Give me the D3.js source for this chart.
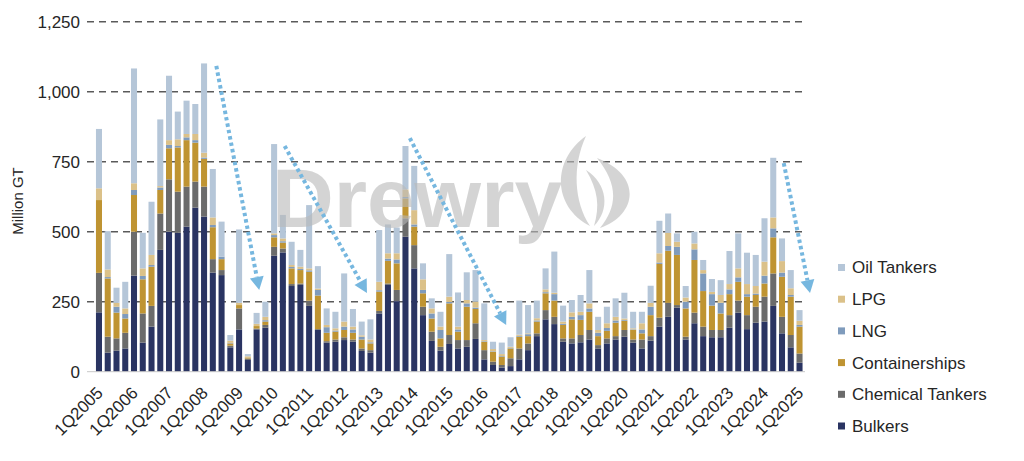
<!DOCTYPE html>
<html>
<head>
<meta charset="utf-8">
<script src="https://d3js.org/d3.v7.min.js"></script>
<style>
  body { margin: 0; background: #fff; }
  text { font-family: "Liberation Sans", Arial, sans-serif; }
</style>
</head>
<body>
<div class="chart-container"></div>
<script>
// quarters 1Q2005 .. 1Q2025
var quarters = [];
for (var yr = 2005; yr <= 2025; yr++) {
  for (var q = 1; q <= 4; q++) {
    if (yr === 2025 && q > 1) break;
    quarters.push(q + "Q" + yr);
  }
}

var tickLabels = ["1Q2005","1Q2006","1Q2007","1Q2008","1Q2009","1Q2010","1Q2011",
  "1Q2012","1Q2013","1Q2014","1Q2015","1Q2016","1Q2017","1Q2018","1Q2019",
  "1Q2020","1Q2021","1Q2022","1Q2023","1Q2024","1Q2025"];

var yTicks = [0, 250, 500, 750, 1000, 1250];

// series values, Million GT
var bulkers = [212,68,75,83,343,104,161,435,500,496,518,586,554,354,345,87,151,42,151,157,
  414,426,306,310,235,149,104,107,113,107,74,68,208,310,252,482,369,202,110,75,
  99,83,89,117,44,24,15,20,44,77,127,187,170,107,101,105,115,83,101,115,
  125,104,83,111,161,196,229,115,173,127,123,123,157,211,152,175,179,235,137,87,32];
var chemical = [141,57,44,56,157,104,74,130,187,147,143,93,107,48,18,6,75,5,3,10,
  32,14,7,5,19,3,5,8,10,8,9,9,9,5,40,66,83,30,33,14,
  32,30,24,56,33,12,9,28,39,24,10,33,26,12,18,26,34,12,18,12,
  24,11,32,16,32,50,9,10,38,34,26,26,45,43,50,57,89,116,59,44,33];
var container = [260,208,92,51,131,122,140,84,111,158,166,139,99,114,39,8,12,4,9,12,
  34,21,56,48,103,120,30,28,26,24,32,24,69,81,95,71,66,48,47,30,
  113,30,119,51,30,35,30,35,42,26,42,60,58,48,68,54,65,32,27,48,
  33,34,22,75,192,186,179,101,188,127,87,59,75,67,66,42,47,129,143,137,96];
var lng = [0,5,21,16,18,12,6,9,12,5,10,9,5,8,9,2,0,0,0,5,
  8,5,5,4,5,20,20,4,12,12,10,4,5,8,14,5,8,12,18,30,
  5,8,12,5,2,2,2,2,3,7,4,4,23,4,9,17,12,12,10,8,
  3,2,14,30,5,17,29,24,38,63,41,38,17,16,9,5,28,32,15,6,6];
var lpg = [42,27,14,20,24,27,36,5,17,24,12,22,17,27,0,8,8,4,8,12,
  6,10,7,8,7,5,8,8,18,10,5,10,30,19,22,27,51,38,18,12,
  19,10,12,21,4,8,7,4,4,3,8,10,5,8,16,12,18,10,17,13,
  5,4,22,14,33,47,18,15,21,12,8,28,19,32,36,27,50,39,41,24,15];
var oil = [212,137,54,95,410,127,190,238,230,99,119,107,319,173,125,20,262,8,39,54,
  319,84,83,60,226,80,59,59,172,63,49,72,185,103,92,155,158,57,36,53,
  152,122,99,113,131,26,41,34,122,101,63,75,147,57,44,60,119,47,59,66,
  92,59,41,61,116,69,30,41,42,36,46,53,118,125,112,111,155,213,81,65,38];

var seriesNames = ["Bulkers","Chemical Tankers","Containerships","LNG","LPG","Oil Tankers"];
var seriesValues = [bulkers, chemical, container, lng, lpg, oil];
var seriesColors = ["#2a3462","#6b6b6b","#bf9432","#7f9bbc","#dbc189","#b5c6d8"];

// trend arrows: [start index, start value, end index, end value]
var arrows = [
  [13.4, 1092, 18.3, 292],
  [21.2, 806, 30.6, 281],
  [35.5, 834, 46.5, 167],
  [78.2, 745, 81.2, 281]
];

var width = 1024, height = 461;

var svg = d3.select(".chart-container").append("svg")
    .attr("width", width)
    .attr("height", height);

// scales
var x = d3.scaleBand()
    .domain(quarters)
    .range([94.6, 803.9])
    .paddingInner(0.31)
    .paddingOuter(0.155);
var y = d3.scaleLinear()
    .domain([0, 1250])
    .range([371.7, 21.7]);

// fractional category position (for arrows)
function xPos(i) {
  return x(quarters[0]) + x.bandwidth() / 2 + i * x.step();
}

// gridlines
svg.append("g").selectAll("line")
    .data(yTicks.filter(function(d) { return d > 0; }))
  .enter().append("line")
    .attr("x1", 87).attr("x2", 805)
    .attr("y1", function(d) { return y(d); })
    .attr("y2", function(d) { return y(d); })
    .attr("stroke", "#5a5a5a")
    .attr("stroke-width", 1.5)
    .attr("stroke-dasharray", "7,5");

// y tick labels
svg.append("g").selectAll("text")
    .data(yTicks)
  .enter().append("text")
    .attr("x", 80)
    .attr("y", function(d) { return y(d); })
    .attr("dy", "0.35em")
    .attr("text-anchor", "end")
    .attr("font-size", 17)
    .attr("fill", "#262626")
    .text(function(d) { return d3.format(",")(d); });

svg.append("text")
    .attr("transform", "translate(23,201) rotate(-90)")
    .attr("text-anchor", "middle")
    .attr("font-size", 15)
    .attr("fill", "#262626")
    .text("Million GT");

// stack the data
var table = quarters.map(function(qq, i) {
  var row = {q: qq};
  seriesNames.forEach(function(s, k) { row[s] = seriesValues[k][i]; });
  return row;
});
var stacked = d3.stack().keys(seriesNames)(table);

svg.append("g").selectAll("g")
    .data(stacked)
  .enter().append("g")
    .attr("fill", function(d, k) { return seriesColors[k]; })
  .selectAll("rect")
    .data(function(d) { return d; })
  .enter().append("rect")
    .attr("x", function(d) { return x(d.data.q); })
    .attr("width", x.bandwidth())
    .attr("y", function(d) { return y(d[1]); })
    .attr("height", function(d) { return y(d[0]) - y(d[1]); });

// baseline
svg.append("line")
    .attr("x1", 87).attr("x2", 805)
    .attr("y1", y(0)).attr("y2", y(0))
    .attr("stroke", "#c8c8c8")
    .attr("stroke-width", 1);

// x labels, every 4th quarter
svg.append("g").selectAll("text")
    .data(tickLabels)
  .enter().append("text")
    .attr("transform", function(d) {
      return "translate(" + (x(d) + x.bandwidth() / 2 + 5) + ",394) rotate(-45)";
    })
    .attr("text-anchor", "end")
    .attr("font-size", 17)
    .attr("fill", "#262626")
    .text(function(d) { return d; });

// watermark
var wm = svg.append("g").attr("opacity", 0.6).attr("fill", "#b9b9b9");
wm.append("text")
    .attr("x", 272)
    .attr("y", 227)
    .attr("font-size", 83)
    .attr("font-weight", "bold")
    .attr("textLength", 290)
    .attr("lengthAdjust", "spacingAndGlyphs")
    .text("Drewry");
wm.append("path")
    .attr("d", "M586,136 C552,160 552,206 590,226 C574,202 572,166 586,136 Z");
wm.append("path")
    .attr("d", "M597,158 C644,176 636,216 600,228 C618,206 618,184 597,158 Z");
wm.append("path")
    .attr("d", "M586,170 C608,184 610,210 594,226 C600,206 598,190 586,170 Z");

// dotted trend arrows
var arrowColor = "#76b7df";
arrows.forEach(function(a) {
  var x1 = xPos(a[0]), y1 = y(a[1]), x2 = xPos(a[2]), y2 = y(a[3]);
  var ang = Math.atan2(y2 - y1, x2 - x1);
  var headLen = 13, headW = 7;
  var bx = x2 - headLen * Math.cos(ang), by = y2 - headLen * Math.sin(ang);
  svg.append("line")
      .attr("x1", x1).attr("y1", y1)
      .attr("x2", bx).attr("y2", by)
      .attr("stroke", arrowColor)
      .attr("stroke-width", 4)
      .attr("stroke-dasharray", "3.5,3");
  var px = -Math.sin(ang) * headW, py = Math.cos(ang) * headW;
  svg.append("path")
      .attr("d", "M" + x2 + "," + y2 + "L" + (bx + px) + "," + (by + py) +
                 "L" + (bx - px) + "," + (by - py) + "Z")
      .attr("fill", arrowColor);
});

// legend (top to bottom: reverse of stacking order)
var legendItems = seriesNames.map(function(s, k) { return {name: s, color: seriesColors[k]}; }).reverse();
var legend = svg.append("g").selectAll("g")
    .data(legendItems)
  .enter().append("g")
    .attr("transform", function(d, i) { return "translate(838," + (267.5 + i * 31.7) + ")"; });
legend.append("rect")
    .attr("x", 0).attr("y", -3.5)
    .attr("width", 7).attr("height", 7)
    .attr("fill", function(d) { return d.color; });
legend.append("text")
    .attr("x", 14)
    .attr("dy", "0.35em")
    .attr("font-size", 17)
    .attr("fill", "#262626")
    .text(function(d) { return d.name; });
</script>
</body>
</html>
